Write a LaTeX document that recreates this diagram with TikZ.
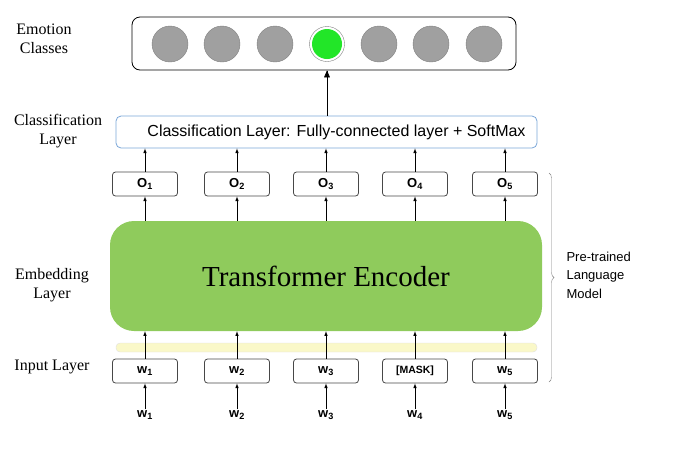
\documentclass[tikz,border=0pt]{standalone}
\usepackage{fontspec}
\setmainfont{Liberation Serif}
\setsansfont{Liberation Sans}
\usetikzlibrary{arrows,decorations.pathreplacing}

\definecolor{encgreen}{RGB}{143,203,92}
\definecolor{clsblue}{RGB}{122,166,216}
\definecolor{dotgray}{RGB}{160,160,160}
\definecolor{dotgreen}{RGB}{34,230,40}
\definecolor{baryellow}{RGB}{250,248,200}

\tikzset{
  side/.style={font=\fontsize{16}{19}\selectfont, align=center},
  tokbox/.style={draw=black!72, thick, rounded corners=3pt, minimum width=65pt, minimum height=24pt, inner sep=0pt, font=\sffamily\bfseries\fontsize{13}{13}\selectfont},
  tok/.style={inner sep=1pt, font=\sffamily\bfseries\fontsize{13}{13}\selectfont},
  dot/.style={circle, draw=black!50, fill=dotgray, minimum size=36pt, inner sep=0pt},
  arr/.style={semithick, black, -latex}
}

\begin{document}
\begin{tikzpicture}[x=1pt,y=-1pt]
\useasboundingbox (0,0) rectangle (684,451);

% side labels
\node [side] (lemo) at (44,39) {Emotion\\Classes};
\node [side] (lcls) at (58,131) {Classification\\Layer};
\node [side] (lemb) at (52,285) {Embedding\\Layer};
\node [side] (linp) at (52,367) {Input Layer};

% output box with classes
\node [draw, thick, rounded corners=8pt, minimum width=384pt, minimum height=53pt] (emo) at (324,43.5) {};
\node [dot] (c1) at (170,44) {};
\node [dot] (c2) at (222,44) {};
\node [dot] (c3) at (275,44) {};
\node [dot, fill=white, minimum size=35pt] (c4) at (327,44) {};
\fill [dotgreen] (c4) circle (15pt);
\node [dot] (c5) at (379,44) {};
\node [dot] (c6) at (431,44) {};
\node [dot] (c7) at (484,44) {};

\node [draw=clsblue, thick, rounded corners=5pt, minimum width=421pt, minimum height=32pt, font=\sffamily\fontsize{16}{16}\selectfont] (cls) at (326.5,132) {\hspace*{20pt}Classification Layer: Fully-connected layer + SoftMax};
\draw [arr, -triangle 45] (cls.north -| c4) -- (emo.south -| c4);

% contextual outputs
\node [tokbox] (o1) at (145,184) {O\textsubscript{1}};
\node [tokbox] (o2) at (237,184) {O\textsubscript{2}};
\node [tokbox] (o3) at (326,184) {O\textsubscript{3}};
\node [tokbox] (o4) at (415,184) {O\textsubscript{4}};
\node [tokbox] (o5) at (505,184) {O\textsubscript{5}};

\node [fill=encgreen, rounded corners=24pt, minimum width=432pt, minimum height=110pt, font=\fontsize{29}{29}\selectfont] (enc) at (326,276) {Transformer Encoder};
\node [draw=black!12, fill=baryellow, rounded corners=4pt, minimum width=421pt, minimum height=9pt, inner sep=0pt] (bar) at (326.5,347.5) {};

% input tokens
\node [tokbox] (t1) at (145,371) {w\textsubscript{1}};
\node [tokbox] (t2) at (237,371) {w\textsubscript{2}};
\node [tokbox] (t3) at (326,371) {w\textsubscript{3}};
\node [tokbox, font=\sffamily\bfseries\fontsize{10.5}{10.5}\selectfont] (t4) at (415,371) {[MASK]};
\node [tokbox] (t5) at (505,371) {w\textsubscript{5}};

\node [tok] (w1) at (145,415) {w\textsubscript{1}};
\node [tok] (w2) at (237,415) {w\textsubscript{2}};
\node [tok] (w3) at (326,415) {w\textsubscript{3}};
\node [tok] (w4) at (415,415) {w\textsubscript{4}};
\node [tok] (w5) at (505,415) {w\textsubscript{5}};

\draw [arr] (w1) -- (t1);
\draw [arr] (w2) -- (t2);
\draw [arr] (w3) -- (t3);
\draw [arr] (w4) -- (t4);
\draw [arr] (w5) -- (t5);

\draw [arr] (t1.north) -- (t1.north |- enc.south);
\draw [arr] (t2.north) -- (t2.north |- enc.south);
\draw [arr] (t3.north) -- (t3.north |- enc.south);
\draw [arr] (t4.north) -- (t4.north |- enc.south);
\draw [arr] (t5.north) -- (t5.north |- enc.south);

\draw [arr] (o1.south |- enc.north) -- (o1.south);
\draw [arr] (o2.south |- enc.north) -- (o2.south);
\draw [arr] (o3.south |- enc.north) -- (o3.south);
\draw [arr] (o4.south |- enc.north) -- (o4.south);
\draw [arr] (o5.south |- enc.north) -- (o5.south);

\draw [arr] (o1.north) -- (o1.north |- cls.south);
\draw [arr] (o2.north) -- (o2.north |- cls.south);
\draw [arr] (o3.north) -- (o3.north |- cls.south);
\draw [arr] (o4.north) -- (o4.north |- cls.south);
\draw [arr] (o5.north) -- (o5.north |- cls.south);

% pre-trained part
\coordinate (bt) at (549,173);
\coordinate (bb) at (549,382);
\draw [black!50, decorate, decoration={brace, amplitude=5pt}] (bt) -- (bb);
\node [anchor=west, align=left, font=\sffamily\fontsize{13}{18.5}\selectfont] (plm) at (563,275) {Pre-trained\\Language\\Model};
\end{tikzpicture}
\end{document}
